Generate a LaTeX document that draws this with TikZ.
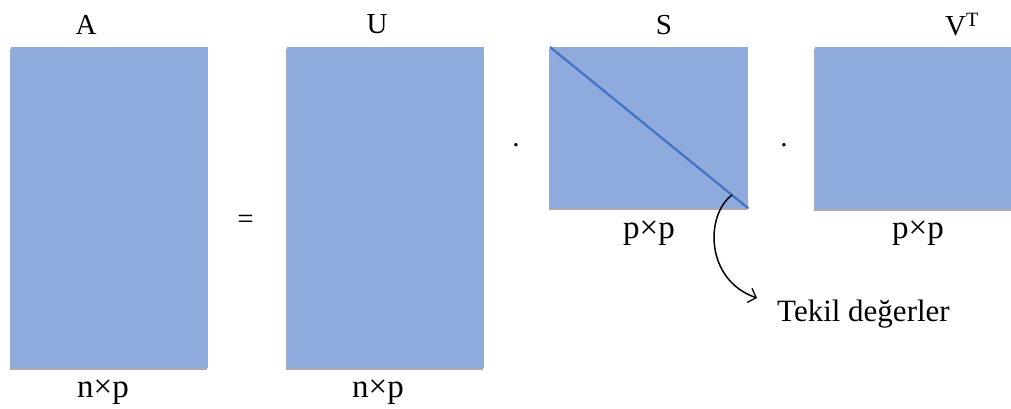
\documentclass[tikz,border=0pt]{standalone}
\usepackage{fontspec}
\setmainfont{Liberation Serif}
\usetikzlibrary{shadows,arrows.meta}
\definecolor{matfill}{HTML}{8FAADC}
\definecolor{diagblue}{HTML}{4472C4}
\tikzset{
  mat/.style={draw=none, fill=matfill, inner sep=0pt, anchor=north west,
    drop shadow={shadow xshift=-1.5pt, shadow yshift=-2pt, opacity=0.6, fill=black!55}},
  title/.style={anchor=base, inner sep=0pt, font=\fontsize{29}{30}\selectfont},
  dimlabel/.style={anchor=base, inner sep=0pt, font=\fontsize{33}{34}\selectfont},
  op/.style={anchor=center, inner sep=0pt, font=\fontsize{29}{30}\selectfont},
}
\begin{document}
\begin{tikzpicture}[x=1pt,y=-1pt]
\useasboundingbox (0,0) rectangle (1011,409);
% matrices
\node[mat, minimum width=197pt, minimum height=321pt] (A) at (11,47) {};
\node[mat, minimum width=197pt, minimum height=321pt] (U) at (287,47) {};
\node[mat, minimum width=198pt, minimum height=161pt] (S) at (550,47) {};
\node[mat, minimum width=200pt, minimum height=162pt] (V) at (815,47) {};
% diagonal of S
\draw[diagblue, line width=2.2pt] (S.north west) -- (S.south east);
% titles
\node[title] (tA) at (86,35) {A};
\node[title] (tU) at (377,34) {U};
\node[title] (tS) at (664,35) {S};
\node[title] (tV) at (962,36) {V\textsuperscript{T}};
% dimension labels
\node[dimlabel] (dA) at (103,397) {n×p};
\node[dimlabel] (dU) at (378,397) {n×p};
\node[dimlabel] (dS) at (649,238) {p×p};
\node[dimlabel] (dV) at (918,238) {p×p};
% operators
\node[op] (eq) at (245.5,222) {=};
\node[op] (dot1) at (516,145) {.};
\node[op] (dot2) at (784,145) {.};
% annotation
\node[dimlabel, anchor=base west, font=\fontsize{31}{32}\selectfont] (tekil) at (777,321) {Tekil değerler};
\coordinate (dstart) at (732,195);
\coordinate (tip) at (757,298);
\draw[line width=1.5pt, -{Straight Barb[length=7pt,width=15pt,line width=1.3pt]}]
  (dstart) .. controls (705,215) and (705,280) .. (tip);
\end{tikzpicture}
\end{document}
